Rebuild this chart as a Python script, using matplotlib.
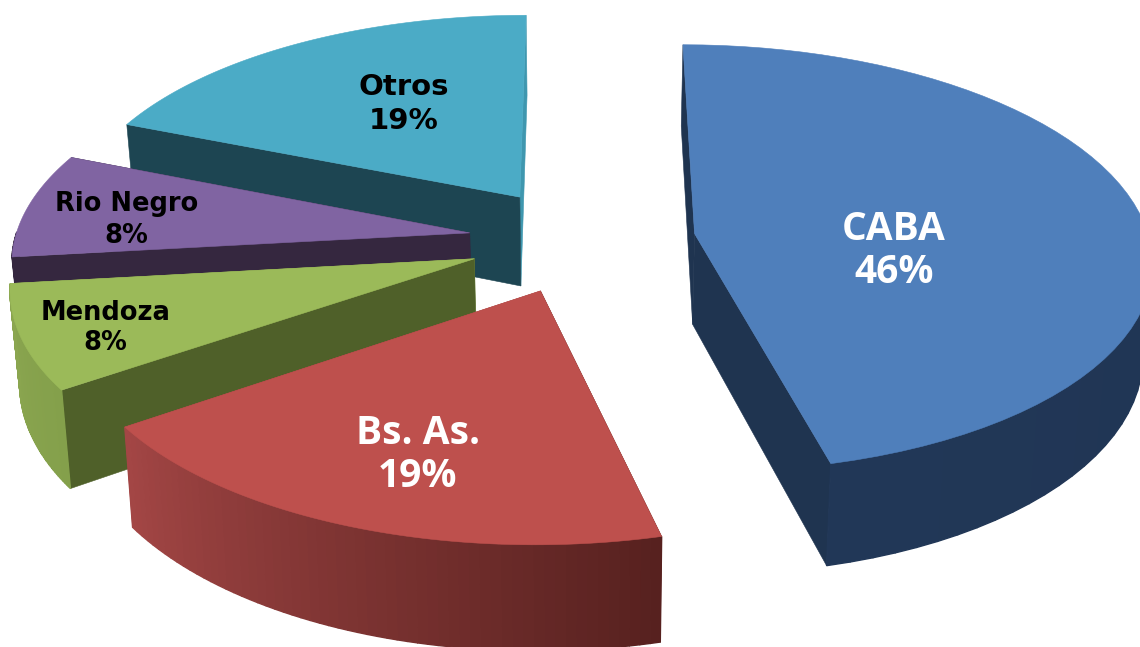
import numpy as np
import matplotlib
matplotlib.use("Agg")
import matplotlib.pyplot as plt
from matplotlib.colors import to_rgb
from matplotlib.patches import Polygon

W, H = 1140, 647

labels = ['CABA', 'Bs. As.', 'Mendoza', 'Rio Negro', 'Otros']
values = [46.15, 19.25, 7.8, 7.9, 18.9]

# colores: tapa, borde (inicio, fin), cara inicial, cara final
top_colors = ['#4F7FBB', '#BE504D', '#9BBA59', '#8064A2', '#4BABC6']
rim_from = ['#1F3450', '#57211F', '#84A04B', '#35273F', '#3F97AF']
rim_to = ['#213757', '#A34645', '#8BA650', '#35273F', '#3F97AF']
start_colors = ['#1F3450', '#57211F', '#4F6029', '#35273F', '#1D4552']
end_colors = ['#1F3450', '#A34645', '#8BA650', '#35273F', '#3F97AF']

# etiquetas
text_colors = ['white', 'white', 'black', 'black', 'black']
font_names = ['Open Sans', 'Open Sans', 'DejaVu Sans', 'DejaVu Sans', 'DejaVu Sans']
font_sizes = [28, 28, 18.5, 18.5, 21]
label_r = [0.45, 0.80, 0.88, 0.76, 0.50]
label_dx = [-1, 27, 28, -7, 0]
label_dy = [29, -20, 0, 8, -13]
line_gap = [1.13, 1.13, 1.2, 1.3, 1.3]
draw_order = [4, 3, 2, 1, 0]

# geometria de la proyeccion
CX, CY = 582, 240
RX, RY = 455, 212
K = 0.115      # perspectiva
EXPLODE = 0.25
DEPTH = 91
SHRINK = 0.983


def project(x, y, z=0.0):
    s = 1 / (1 + K * y)
    f = 1 + (SHRINK - 1) * z
    return CX + RX * x * s * f, CY - RY * y * s + DEPTH * z * s


def rim_points(t, ox, oy, z=0.0):
    return np.column_stack(project(ox + np.sin(t), oy + np.cos(t), z))


fig = plt.figure(figsize=(W / 100, H / 100), dpi=100)
ax = fig.add_axes([0, 0, 1, 1])
ax.set_xlim(0, W)
ax.set_ylim(H, 0)
ax.axis('off')

fracs = np.array(values) / sum(values)
edges = np.concatenate([[0], np.cumsum(fracs)]) * 2 * np.pi

for i in draw_order:
    t0, t1 = edges[i], edges[i + 1]
    mid = (t0 + t1) / 2
    ox, oy = EXPLODE * np.sin(mid), EXPLODE * np.cos(mid)

    t = np.linspace(t0, t1, 60)
    apex_top = np.array(project(ox, oy))
    apex_bot = np.array(project(ox, oy, 1.0))
    top = rim_points(t, ox, oy)
    bot = rim_points(t, ox, oy, 1.0)

    # caras radiales
    for j, col in [(-1, end_colors[i]), (0, start_colors[i])]:
        quad = [apex_top, top[j], bot[j], apex_bot]
        ax.add_patch(Polygon(quad, closed=True, fc=col, ec=col, lw=0.4))

    # borde exterior con degradado, solo la parte que mira al frente
    c0 = np.array(to_rgb(rim_from[i]))
    c1 = np.array(to_rgb(rim_to[i]))
    for k in range(len(top) - 1):
        if np.cos(t[k]) > 0:
            continue
        col = c0 + (c1 - c0) * k / (len(top) - 2)
        quad = [top[k], top[k + 1], bot[k + 1], bot[k]]
        ax.add_patch(Polygon(quad, closed=True, fc=col, ec=col, lw=1.0))

    # tapa
    ax.add_patch(Polygon(np.vstack([apex_top, top]), closed=True,
                         fc=top_colors[i], ec=top_colors[i], lw=0.4))

for i in draw_order:
    mid = (edges[i] + edges[i + 1]) / 2
    ox, oy = EXPLODE * np.sin(mid), EXPLODE * np.cos(mid)
    lx, ly = project(ox + label_r[i] * np.sin(mid), oy + label_r[i] * np.cos(mid))
    ax.text(lx + label_dx[i], ly + label_dy[i], f"{labels[i]}\n{values[i]:.0f}%",
            color=text_colors[i], fontsize=font_sizes[i], fontfamily=font_names[i],
            fontweight='bold', ha='center', va='center', linespacing=line_gap[i])

fig.savefig('out.png', dpi=100)
